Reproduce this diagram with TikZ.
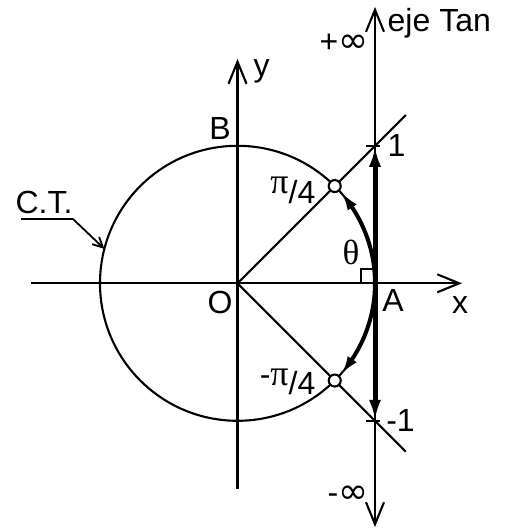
\documentclass[tikz,border=0pt]{standalone}
\usepackage{fontspec}
\setmainfont{Liberation Sans}
\newfontfamily\symf{Liberation Serif}
\newfontfamily\inff{DejaVu Sans}
\usetikzlibrary{arrows.meta,bending}
\begin{document}
\begin{tikzpicture}[x=1pt,y=1pt,
  thinline/.style={line width=2.1pt},
  axisline/.style={line width=2.1pt,-{Straight Barb[length=22pt,width=18pt]}},
  thickarrow/.style={line width=5pt,-{Latex[length=21pt,width=12pt]}},
  thickarc/.style={line width=4pt,-{Latex[length=18pt,width=11pt,bend]}},
  lbl/.style={font=\fontsize{32}{36}\selectfont,inner sep=0pt},
  dot/.style={circle,draw,fill=white,line width=2.1pt,minimum size=12pt,inner sep=0pt}]
\useasboundingbox (-237.5,-245.7) rectangle (272.5,283.3);
\def\R{137.5}
\coordinate (O) at (0,0);
\coordinate (A) at (\R,0);
\coordinate (T1) at (\R,\R);
\coordinate (Tm1) at (\R,-\R);
\coordinate (xl) at (-206.5,0);
\coordinate (xr) at (224.5,0);
\coordinate (yb) at (0,-205.7);
\coordinate (yt) at (0,224.3);
\coordinate (tb) at (\R,-243.7);
\coordinate (tt) at (\R,276.3);
\coordinate (d1) at (45:238);
\coordinate (d2) at (-45:238);
\coordinate (ul) at (-216.5,64.3);
\coordinate (ur) at (-164.5,64.3);
\coordinate (ct) at (165.5:\R);
% circle
\draw[thinline] (O) circle[radius=\R];
% axes
\draw[axisline] (xl) -- (xr);
\draw[axisline] (yb) -- (yt);
\draw[axisline] (A) -- (tt);
\draw[axisline] (A) -- (tb);
% diagonals
\draw[thinline] (O) -- (d1);
\draw[thinline] (O) -- (d2);
% ticks
\draw[thinline] ([xshift=-9pt]T1) -- ([xshift=5pt]T1);
\draw[thinline] ([xshift=-9pt]Tm1) -- ([xshift=5pt]Tm1);
% right angle
\draw[line width=1.8pt] ([xshift=-14pt]A) |- ([yshift=14pt]A);
% thick arrows
\draw[thickarrow] (A) -- (T1);
\draw[thickarrow] (A) -- (Tm1);
\draw[thickarc] (A) arc[start angle=0,end angle=41,radius=\R];
\draw[thickarc] (A) arc[start angle=0,end angle=-41,radius=\R];
% points
\node[dot] (P1) at (45:\R) {};
\node[dot] (P2) at (-45:\R) {};
% C.T. leader
\draw[thinline] (ul) -- (ur);
\draw[line width=1.8pt,-{Straight Barb[length=10pt,width=10pt]}] (ur) -- (ct);
% labels
\node[lbl,anchor=west] (ejetan) at (150,260) {eje Tan};
\node[lbl,anchor=east] (pinf) at (131,240) {+{\inff\fontsize{36}{38}\selectfont ∞}};
\node[lbl,anchor=east] (minf) at (131,-211.7) {-{\inff\fontsize{36}{38}\selectfont ∞}};
\node[lbl] (one) at (159,138) {1};
\node[lbl] (mone) at (163,-137) {-1};
\node[lbl] (Alab) at (155.5,-17) {A};
\node[lbl] (xlab) at (222.5,-22) {x};
\node[lbl] (Olab) at (-17.5,-19) {O};
\node[lbl] (Blab) at (-17.5,155.3) {B};
\node[lbl] (ylab) at (24,212) {y};
\node[lbl] (th) at (113.5,31.3) {\symf\fontsize{35}{38}\selectfont θ};
\node[lbl,anchor=east] (pi4) at (78,93) {\raisebox{10pt}{\symf\fontsize{36}{38}\selectfont π}/4};
\node[lbl,anchor=east] (mpi4) at (78,-99) {\raisebox{9pt}{-\symf\fontsize{36}{38}\selectfont π}/4};
\node[lbl] (CT) at (-193.5,81.3) {C.T.};
\end{tikzpicture}
\end{document}
